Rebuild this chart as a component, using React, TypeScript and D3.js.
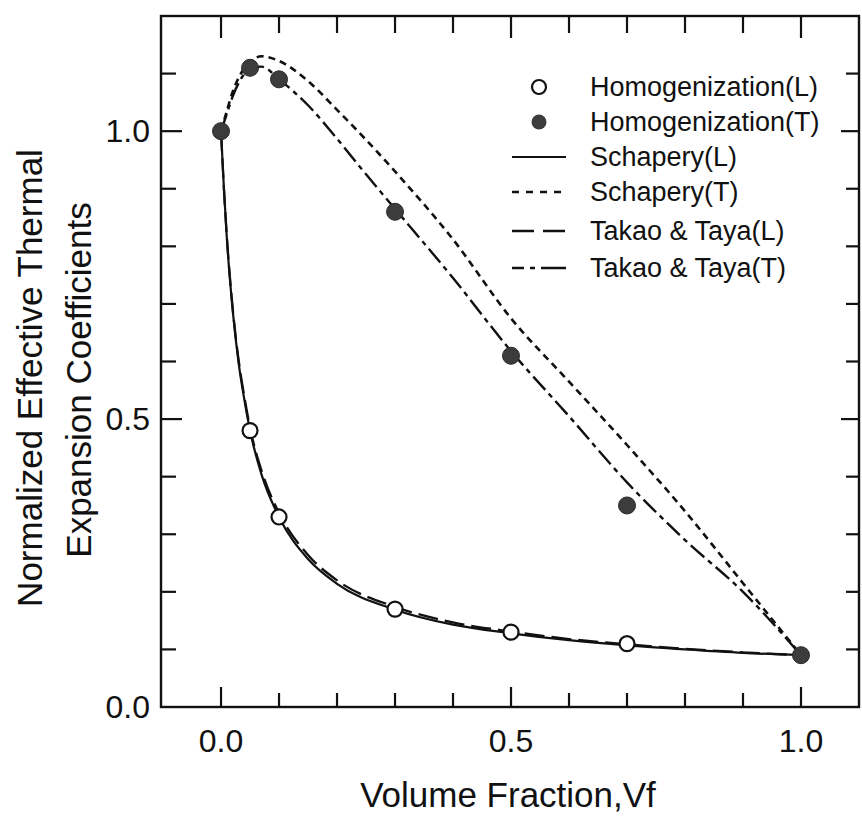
import React from "react";
import * as d3 from "d3";

const W = 862;
const H = 816;

// Homogenization results (markers)
const homogVfL = [0.05, 0.1, 0.3, 0.5, 0.7];
const homogL = [0.48, 0.33, 0.17, 0.13, 0.11];
const homogVfT = [0, 0.05, 0.1, 0.3, 0.5, 0.7, 1.0];
const homogT = [1.0, 1.11, 1.09, 0.86, 0.61, 0.35, 0.09];

// Longitudinal predictions
const vfL = [0, 0.005, 0.01, 0.02, 0.03, 0.04, 0.05, 0.07, 0.1, 0.15, 0.2, 0.3, 0.4, 0.5, 0.6, 0.7, 0.8, 0.9, 1.0];
const schaperyL = [1.0, 0.9, 0.815, 0.69, 0.6, 0.535, 0.48, 0.403, 0.33, 0.257, 0.214, 0.169, 0.143, 0.128, 0.116, 0.107, 0.1, 0.094, 0.09];
const takaoL = [1.0, 0.9, 0.817, 0.694, 0.605, 0.54, 0.485, 0.41, 0.337, 0.264, 0.22, 0.174, 0.147, 0.131, 0.118, 0.109, 0.101, 0.095, 0.09];

// Transverse predictions
const vfT = [0, 0.01, 0.02, 0.03, 0.05, 0.07, 0.1, 0.15, 0.2, 0.25, 0.3, 0.4, 0.5, 0.6, 0.7, 0.8, 0.9, 1.0];
const schaperyT = [1.0, 1.035, 1.068, 1.092, 1.12, 1.13, 1.122, 1.087, 1.037, 0.985, 0.93, 0.812, 0.675, 0.565, 0.455, 0.34, 0.215, 0.09];
const takaoT = [1.0, 1.03, 1.06, 1.083, 1.108, 1.112, 1.09, 1.045, 0.987, 0.925, 0.865, 0.745, 0.618, 0.505, 0.39, 0.29, 0.2, 0.09];

// Axis ticks
const xTickValues = [0, 0.1, 0.2, 0.3, 0.4, 0.5, 0.6, 0.7, 0.8, 0.9, 1.0];
const xTickLabels = ["0.0", "0.5", "1.0"];
const xLabelValues = [0, 0.5, 1.0];
const yTickValues = [0.1, 0.2, 0.3, 0.4, 0.5, 0.6, 0.7, 0.8, 0.9, 1.0, 1.1];
const yTickLabels = ["0.0", "0.5", "1.0"];
const yLabelValues = [0, 0.5, 1.0];
const majorValues = [0, 0.5, 1.0];

const legendLabels = [
  "Homogenization(L)",
  "Homogenization(T)",
  "Schapery(L)",
  "Schapery(T)",
  "Takao & Taya(L)",
  "Takao & Taya(T)",
];

const FONT = "'Liberation Sans', Arial, Helvetica, sans-serif";
const INK = "#111";
const DOT = "#3c3c3c";

const x = d3.scaleLinear().domain([-0.1035, 1.1]).range([161, 859]);
const y = d3.scaleLinear().domain([0, 1.2]).range([707, 16]);

const isMajor = (v: number) => majorValues.some((m) => Math.abs(m - v) < 1e-6);

function pathFor(xs: number[], ys: number[]) {
  const line = d3
    .line<number>()
    .x((_, i) => x(xs[i]))
    .y((d) => y(d))
    .curve(d3.curveMonotoneX);
  return line(ys) || "";
}

const styles = {
  schaperyL: { strokeWidth: 2.2, dash: undefined as string | undefined },
  schaperyT: { strokeWidth: 2.6, dash: "7,5" },
  takaoL: { strokeWidth: 2.3, dash: "20,7" },
  takaoT: { strokeWidth: 2.4, dash: "18,5,5,5" },
};

export default function App() {
  const left = x.range()[0];
  const right = x.range()[1];
  const top = y.range()[1];
  const bottom = y.range()[0];

  const legendRows = [87, 122, 157, 192, 231, 268];
  const lx0 = 512;
  const lx1 = 566;
  const mx = 539;
  const tx = 590;

  return (
    <svg
      width={W}
      height={H}
      viewBox={`0 0 ${W} ${H}`}
      style={{ position: "absolute", left: 0, top: 0, background: "#fff" }}
      fontFamily={FONT}
    >
      <rect x={0} y={0} width={W} height={H} fill="#fff" />

      {/* curves */}
      <g fill="none" stroke={INK} strokeLinecap="butt">
        <path d={pathFor(vfT, schaperyT)} strokeWidth={styles.schaperyT.strokeWidth} strokeDasharray={styles.schaperyT.dash} />
        <path d={pathFor(vfT, takaoT)} strokeWidth={styles.takaoT.strokeWidth} strokeDasharray={styles.takaoT.dash} />
        <path d={pathFor(vfL, takaoL)} strokeWidth={styles.takaoL.strokeWidth} strokeDasharray={styles.takaoL.dash} />
        <path d={pathFor(vfL, schaperyL)} strokeWidth={styles.schaperyL.strokeWidth} />
      </g>

      {/* frame */}
      <rect x={left} y={top} width={right - left} height={bottom - top} fill="none" stroke={INK} strokeWidth={2.4} />

      {/* bottom and top ticks */}
      <g stroke={INK} strokeWidth={2.2}>
        {xTickValues.map((v) => (
          <g key={"xt" + v}>
            <line x1={x(v)} x2={x(v)} y1={bottom} y2={bottom - (isMajor(v) ? 20 : 14)} />
            <line x1={x(v)} x2={x(v)} y1={top} y2={top + (isMajor(v) ? 22 : 17)} />
          </g>
        ))}
        {yTickValues.map((v) => (
          <g key={"yt" + v}>
            <line x1={left} x2={left + (isMajor(v) ? 21 : 15)} y1={y(v)} y2={y(v)} />
            <line x1={right} x2={right - (isMajor(v) ? 18 : 13)} y1={y(v)} y2={y(v)} />
          </g>
        ))}
      </g>

      {/* tick labels */}
      <g fill={INK} fontSize={32}>
        {xLabelValues.map((v, i) => (
          <text key={"xl" + v} x={x(v)} y={752} textAnchor="middle">
            {xTickLabels[i]}
          </text>
        ))}
        {yLabelValues.map((v, i) => (
          <text key={"yl" + v} x={150} y={y(v)} textAnchor="end" dominantBaseline="central">
            {yTickLabels[i]}
          </text>
        ))}
      </g>

      {/* axis titles */}
      <text x={508} y={807} textAnchor="middle" fontSize={35} fill={INK}>
        Volume Fraction,Vf
      </text>
      <g fontSize={35} fill={INK} textAnchor="middle">
        <text transform={`translate(42,378) rotate(-90)`}>Normalized Effective Thermal</text>
        <text transform={`translate(91,380) rotate(-90)`}>Expansion Coefficients</text>
      </g>

      {/* markers */}
      <g>
        {homogVfL.map((v, i) => (
          <circle key={"hl" + v} cx={x(v)} cy={y(homogL[i])} r={7.5} fill="#fff" stroke={INK} strokeWidth={2.2} />
        ))}
        {homogVfT.map((v, i) => (
          <circle key={"ht" + v} cx={x(v)} cy={y(homogT[i])} r={8.5} fill={DOT} stroke="#2a2a2a" strokeWidth={1} />
        ))}
      </g>

      {/* legend */}
      <g>
        <circle cx={mx} cy={legendRows[0]} r={7} fill="#fff" stroke={INK} strokeWidth={2.2} />
        <circle cx={mx} cy={legendRows[1]} r={7.5} fill={DOT} />
        <line x1={lx0} x2={lx1} y1={legendRows[2]} y2={legendRows[2]} stroke={INK} strokeWidth={styles.schaperyL.strokeWidth} />
        <line x1={lx0} x2={lx1} y1={legendRows[3]} y2={legendRows[3]} stroke={INK} strokeWidth={styles.schaperyT.strokeWidth} strokeDasharray="7,7" />
        <line x1={lx0} x2={lx1} y1={legendRows[4]} y2={legendRows[4]} stroke={INK} strokeWidth={styles.takaoL.strokeWidth} strokeDasharray="22,9" />
        <line x1={lx0} x2={lx1} y1={legendRows[5]} y2={legendRows[5]} stroke={INK} strokeWidth={styles.takaoT.strokeWidth} strokeDasharray="12,6,5,6,30" />
        <g fontSize={27} fill={INK}>
          {legendLabels.map((t, i) => (
            <text key={t} x={tx} y={legendRows[i]} dominantBaseline="central">
              {t}
            </text>
          ))}
        </g>
      </g>
    </svg>
  );
}
